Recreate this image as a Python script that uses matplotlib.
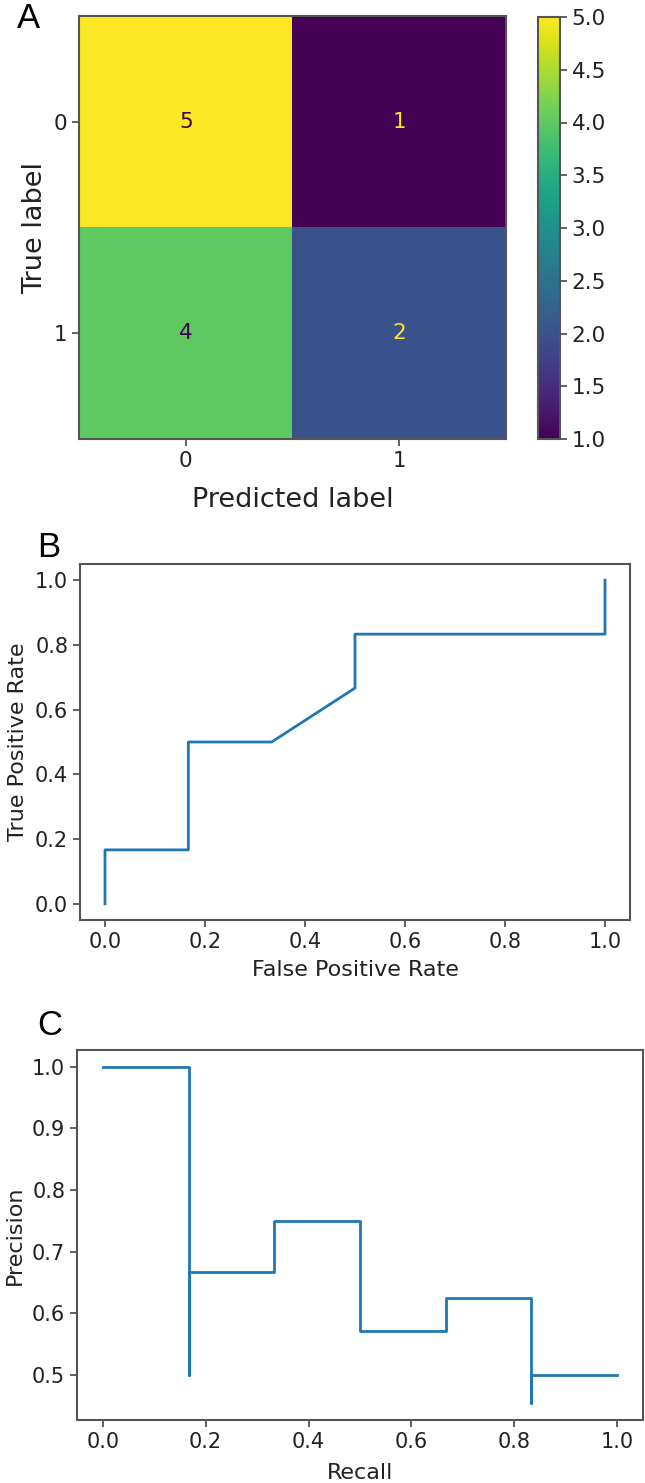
import numpy as np
import matplotlib
matplotlib.use("Agg")
import matplotlib.pyplot as plt

# ---- data ----
cm_labels = ["0", "1"]
cm_values = [[5, 1],
             [4, 2]]
cbar_ticks = [1.0, 1.5, 2.0, 2.5, 3.0, 3.5, 4.0, 4.5, 5.0]

roc_fpr = [0.0, 0.0, 0.1667, 0.1667, 0.3333, 0.5, 0.5, 1.0, 1.0]
roc_tpr = [0.0, 0.1667, 0.1667, 0.5, 0.5, 0.6667, 0.8333, 0.8333, 1.0]

pr_recall = [1.0, 0.8333, 0.8333, 0.6667, 0.5, 0.3333, 0.1667, 0.1667, 0.0]
pr_precision = [0.5, 0.4545, 0.625, 0.5714, 0.75, 0.6667, 0.5, 1.0, 1.0]

W, H = 645, 1483
fig = plt.figure(figsize=(W / 100, H / 100), dpi=100)

SPINE = "#555555"
TXT = "#222222"
LINE = "#1f77b4"


def px_axes(x0, y0, x1, y1):
    return fig.add_axes([x0 / W, 1 - y1 / H, (x1 - x0) / W, (y1 - y0) / H])


def style(ax, tick_fs):
    for s in ax.spines.values():
        s.set_color(SPINE)
        s.set_linewidth(1.5)
    ax.tick_params(labelsize=tick_fs, colors=SPINE, labelcolor=TXT,
                   length=5, width=1.3)


# ---- Panel A: confusion matrix ----
cm = np.array(cm_values)
axA = px_axes(79, 16, 506, 439)
cmap = plt.get_cmap("viridis")
im = axA.imshow(cm, cmap=cmap, aspect="auto", vmin=cm.min(), vmax=cm.max())
thresh = (cm.max() + cm.min()) / 2.0
for i in range(cm.shape[0]):
    for j in range(cm.shape[1]):
        color = cmap(0.0) if cm[i, j] >= thresh else cmap(1.0)
        axA.text(j, i, str(cm[i, j]), ha="center", va="center",
                 color=color, fontsize=15.5)
axA.set_xticks(range(len(cm_labels)))
axA.set_xticklabels(cm_labels)
axA.set_yticks(range(len(cm_labels)))
axA.set_yticklabels(cm_labels)
style(axA, 15.5)
axA.set_xlabel("Predicted label", fontsize=19.5, color=TXT, labelpad=12)
axA.set_ylabel("True label", fontsize=19.5, color=TXT, labelpad=4)

caxA = px_axes(538, 17, 560, 439)
cb = fig.colorbar(im, cax=caxA)
cb.set_ticks(cbar_ticks)
cb.set_ticklabels([f"{t:.1f}" for t in cbar_ticks])
cb.outline.set_edgecolor(SPINE)
cb.outline.set_linewidth(1.5)
caxA.tick_params(labelsize=15.5, colors=SPINE, labelcolor=TXT, length=5, width=1.3)

# ---- Panel B: ROC curve ----
axB = px_axes(80, 564, 630, 920)
axB.plot(roc_fpr, roc_tpr, color=LINE, lw=2)
axB.set_xticks([0.0, 0.2, 0.4, 0.6, 0.8, 1.0])
axB.set_yticks([0.0, 0.2, 0.4, 0.6, 0.8, 1.0])
style(axB, 15)
axB.set_xlabel("False Positive Rate", fontsize=16, color=TXT, labelpad=6)
axB.set_ylabel("True Positive Rate", fontsize=16, color=TXT, labelpad=5)

# ---- Panel C: precision-recall curve ----
axC = px_axes(77, 1050, 643, 1420)
axC.plot(pr_recall, pr_precision, color=LINE, lw=2, drawstyle="steps-post")
axC.set_xticks([0.0, 0.2, 0.4, 0.6, 0.8, 1.0])
axC.set_yticks([0.5, 0.6, 0.7, 0.8, 0.9, 1.0])
style(axC, 15)
axC.set_xlabel("Recall", fontsize=16, color=TXT, labelpad=8)
axC.set_ylabel("Precision", fontsize=16, color=TXT, labelpad=5)

# ---- panel letters ----
for letter, x, yb in [("A", 17, 28), ("B", 37, 557), ("C", 37, 1035)]:
    fig.text(x / W, 1 - yb / H, letter, fontsize=25, family="Liberation Sans",
             ha="left", va="baseline", color="black")

fig.savefig("out.png", dpi=100)
